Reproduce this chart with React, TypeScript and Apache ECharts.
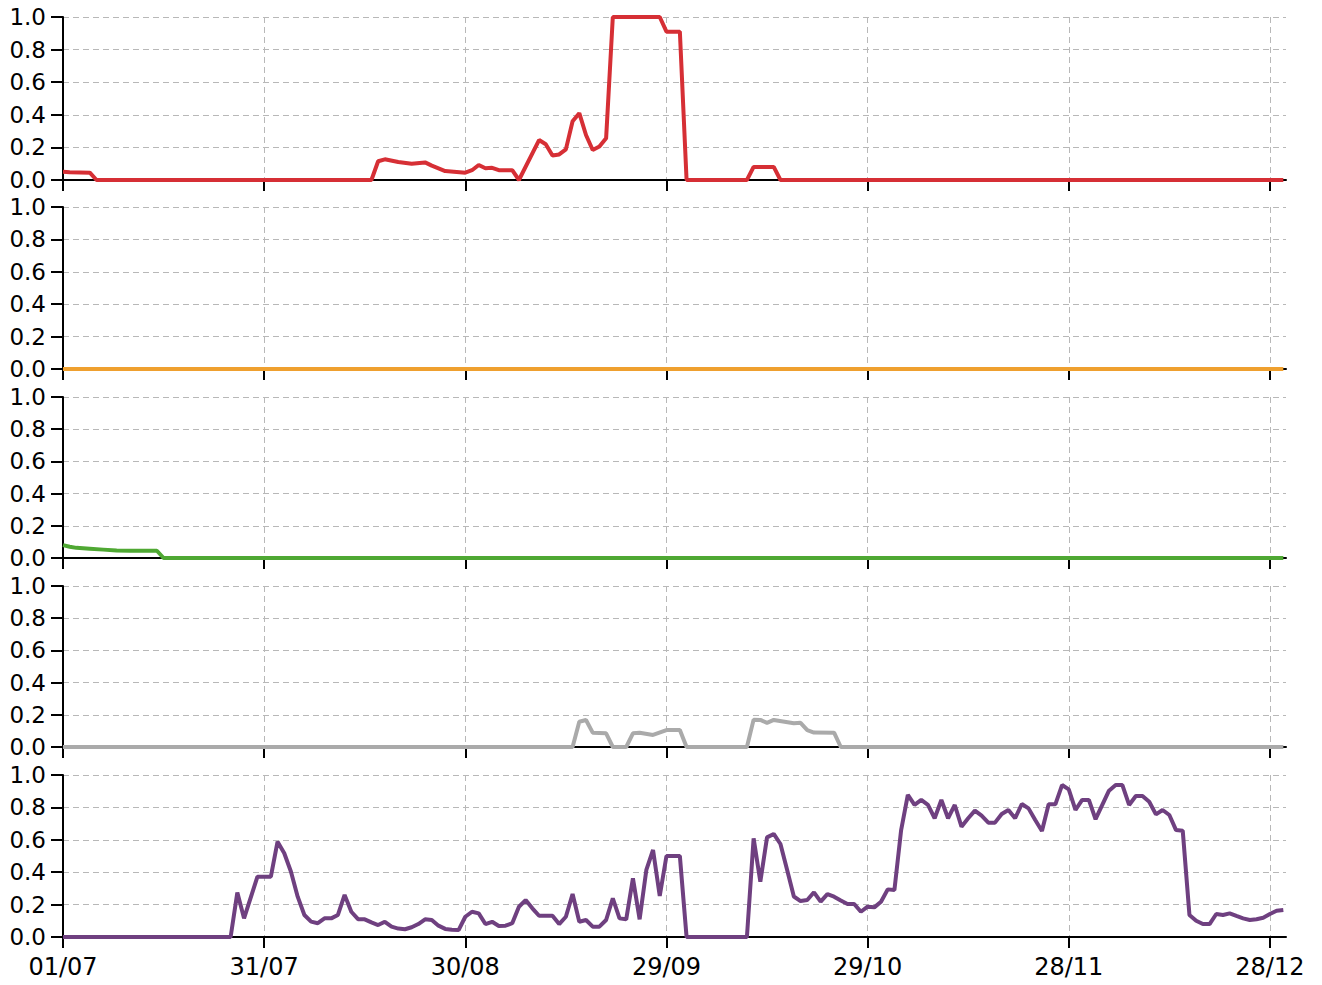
import React, { useEffect, useRef } from "react";
import * as echarts from "echarts";

// x = day index counted from 01/07 (daily data, breakpoints)
const startYear = 2018;
const xTickDays = [0, 30, 60, 90, 120, 150, 180];
const yTicks = [0, 0.2, 0.4, 0.6, 0.8, 1.0];

const redSeries: [number, number][] = [
  [0, 0.05], [1, 0.048], [4, 0.045], [5, 0], [46, 0], [47, 0.115], [48, 0.127], [50, 0.11],
  [52, 0.1], [54, 0.108], [55, 0.088], [57, 0.055], [60, 0.045], [61, 0.06], [62, 0.092],
  [63, 0.072], [64, 0.075], [65, 0.06], [67, 0.06], [68, 0], [71, 0.245], [72, 0.219],
  [73, 0.15], [74, 0.157], [75, 0.188], [76, 0.36], [77, 0.41], [78, 0.276], [79, 0.184],
  [80, 0.205], [81, 0.256], [82, 1.0], [89, 1.0], [90, 0.91], [92, 0.91], [93, 0], [102, 0],
  [103, 0.08], [106, 0.08], [107, 0], [182, 0],
];

const orangeSeries: [number, number][] = [[0, 0], [182, 0]];

const greenSeries: [number, number][] = [
  [0, 0.08], [1, 0.07], [2, 0.063], [4, 0.058], [6, 0.052], [8, 0.046], [10, 0.045],
  [14, 0.045], [15, 0], [182, 0],
];

const graySeries: [number, number][] = [
  [0, 0], [76, 0], [77, 0.157], [78, 0.168], [79, 0.089], [81, 0.085], [82, 0], [84, 0],
  [85, 0.085], [86, 0.089], [88, 0.075], [90, 0.105], [92, 0.105], [93, 0], [102, 0],
  [103, 0.17], [104, 0.168], [105, 0.15], [106, 0.168], [109, 0.147], [110, 0.15],
  [111, 0.105], [112, 0.09], [115, 0.089], [116, 0], [182, 0],
];

const purpleSeries: [number, number][] = [
  [0, 0], [25, 0], [26, 0.274], [27, 0.115], [29, 0.372], [31, 0.372], [32, 0.588], [33, 0.517],
  [34, 0.403], [35, 0.249], [36, 0.136], [37, 0.095], [38, 0.085], [39, 0.115], [40, 0.115],
  [41, 0.136], [42, 0.26], [43, 0.156], [44, 0.11], [45, 0.109], [46, 0.09], [47, 0.074],
  [48, 0.094], [49, 0.064], [50, 0.052], [51, 0.048], [52, 0.06], [53, 0.08], [54, 0.109],
  [55, 0.105], [56, 0.07], [57, 0.05], [58, 0.045], [59, 0.043], [60, 0.125], [61, 0.156],
  [62, 0.146], [63, 0.08], [64, 0.094], [65, 0.068], [66, 0.07], [67, 0.085], [68, 0.187],
  [69, 0.228], [70, 0.177], [71, 0.131], [72, 0.131], [73, 0.131], [74, 0.08], [75, 0.125],
  [76, 0.265], [77, 0.094], [78, 0.105], [79, 0.064], [80, 0.064], [81, 0.105], [82, 0.239],
  [83, 0.115], [84, 0.109], [85, 0.362], [86, 0.109], [87, 0.414], [88, 0.537], [89, 0.253],
  [90, 0.5], [92, 0.5], [93, 0], [102, 0], [103, 0.609], [104, 0.341], [105, 0.615],
  [106, 0.636], [107, 0.574], [108, 0.414], [109, 0.25], [110, 0.222], [111, 0.228],
  [112, 0.276], [113, 0.218], [114, 0.265], [115, 0.249], [116, 0.225], [117, 0.204],
  [118, 0.204], [119, 0.156], [120, 0.187], [121, 0.183], [122, 0.218], [123, 0.294],
  [124, 0.29], [125, 0.66], [126, 0.877], [127, 0.815], [128, 0.846], [129, 0.815],
  [130, 0.733], [131, 0.846], [132, 0.733], [133, 0.815], [134, 0.681], [135, 0.733],
  [136, 0.78], [137, 0.749], [138, 0.706], [139, 0.706], [140, 0.759], [141, 0.784],
  [142, 0.733], [143, 0.821], [144, 0.794], [145, 0.722], [146, 0.654], [147, 0.819],
  [148, 0.819], [149, 0.938], [150, 0.911], [151, 0.784], [152, 0.846], [153, 0.846],
  [154, 0.727], [155, 0.815], [156, 0.903], [157, 0.938], [158, 0.938], [159, 0.815],
  [160, 0.87], [161, 0.87], [162, 0.835], [163, 0.757], [164, 0.784], [165, 0.753],
  [166, 0.66], [167, 0.656], [168, 0.136], [169, 0.1], [170, 0.08], [171, 0.08],
  [172, 0.142], [173, 0.136], [174, 0.146], [175, 0.13], [176, 0.115], [177, 0.105],
  [178, 0.11], [179, 0.119], [180, 0.142], [181, 0.162], [182, 0.167],
];

const panels = [
  { data: redSeries, color: "#d62f35" },
  { data: orangeSeries, color: "#efa02f" },
  { data: greenSeries, color: "#4fa833" },
  { data: graySeries, color: "#aaaaaa" },
  { data: purpleSeries, color: "#6f4080" },
];

const gridTops = [17, 207, 397, 586, 775];
const gridHeights = [163, 162, 161, 161, 162];

function dayLabel(d: number): string {
  const dt = new Date(Date.UTC(startYear, 6, 1 + Math.round(d)));
  const dd = String(dt.getUTCDate()).padStart(2, "0");
  const mm = String(dt.getUTCMonth() + 1).padStart(2, "0");
  return dd + "/" + mm;
}

const FONT = "DejaVu Sans";

export default function App() {
  const ref = useRef<HTMLDivElement>(null);
  useEffect(() => {
    if (!ref.current) return;
    const chart = echarts.init(ref.current, null, { renderer: "svg" });
    const grids = panels.map((_, i) => ({
      left: 63,
      width: 1223,
      top: gridTops[i],
      height: gridHeights[i],
      containLabel: false,
    }));
    const dashed = { show: true, lineStyle: { color: "#b8b8b8", type: [6, 4] as any, width: 1 } };
    const xAxes = panels.map((_, i) => ({
      type: "value",
      gridIndex: i,
      min: 0,
      max: 182.4,
      interval: 30,
      axisLine: { show: true, onZero: false, lineStyle: { color: "#000", width: 2 } },
      axisTick: { show: true, length: 11, inside: false, customValues: xTickDays, lineStyle: { color: "#000", width: 2 } },
      axisLabel: {
        show: i === panels.length - 1,
        customValues: xTickDays,
        formatter: (v: number) => dayLabel(v),
        color: "#000",
        fontFamily: FONT,
        fontSize: 24,
        margin: 18,
      },
      splitLine: dashed,
    }));
    const yAxes = panels.map((_, i) => ({
      type: "value",
      gridIndex: i,
      min: 0,
      max: 1,
      interval: 0.2,
      offset: 3,
      axisLine: { show: true, lineStyle: { color: "#000", width: 2 } },
      axisTick: { show: true, length: 12, lineStyle: { color: "#000", width: 2 } },
      axisLabel: {
        formatter: (v: number) => v.toFixed(1),
        color: "#000",
        fontFamily: FONT,
        fontSize: 23,
        margin: 14,
        customValues: yTicks,
      },
      splitLine: dashed,
    }));
    const series = panels.map((p, i) => ({
      type: "line",
      xAxisIndex: i,
      yAxisIndex: i,
      data: p.data,
      showSymbol: false,
      symbol: "none",
      lineStyle: { color: p.color, width: 4 },
      itemStyle: { color: p.color },
      z: 3,
    }));
    chart.setOption({
      animation: false,
      backgroundColor: "#fff",
      grid: grids,
      xAxis: xAxes,
      yAxis: yAxes,
      series,
    });
    return () => chart.dispose();
  }, []);
  return <div ref={ref} style={{ position: "absolute", left: 0, top: 0, width: 1322, height: 985 }} />;
}
